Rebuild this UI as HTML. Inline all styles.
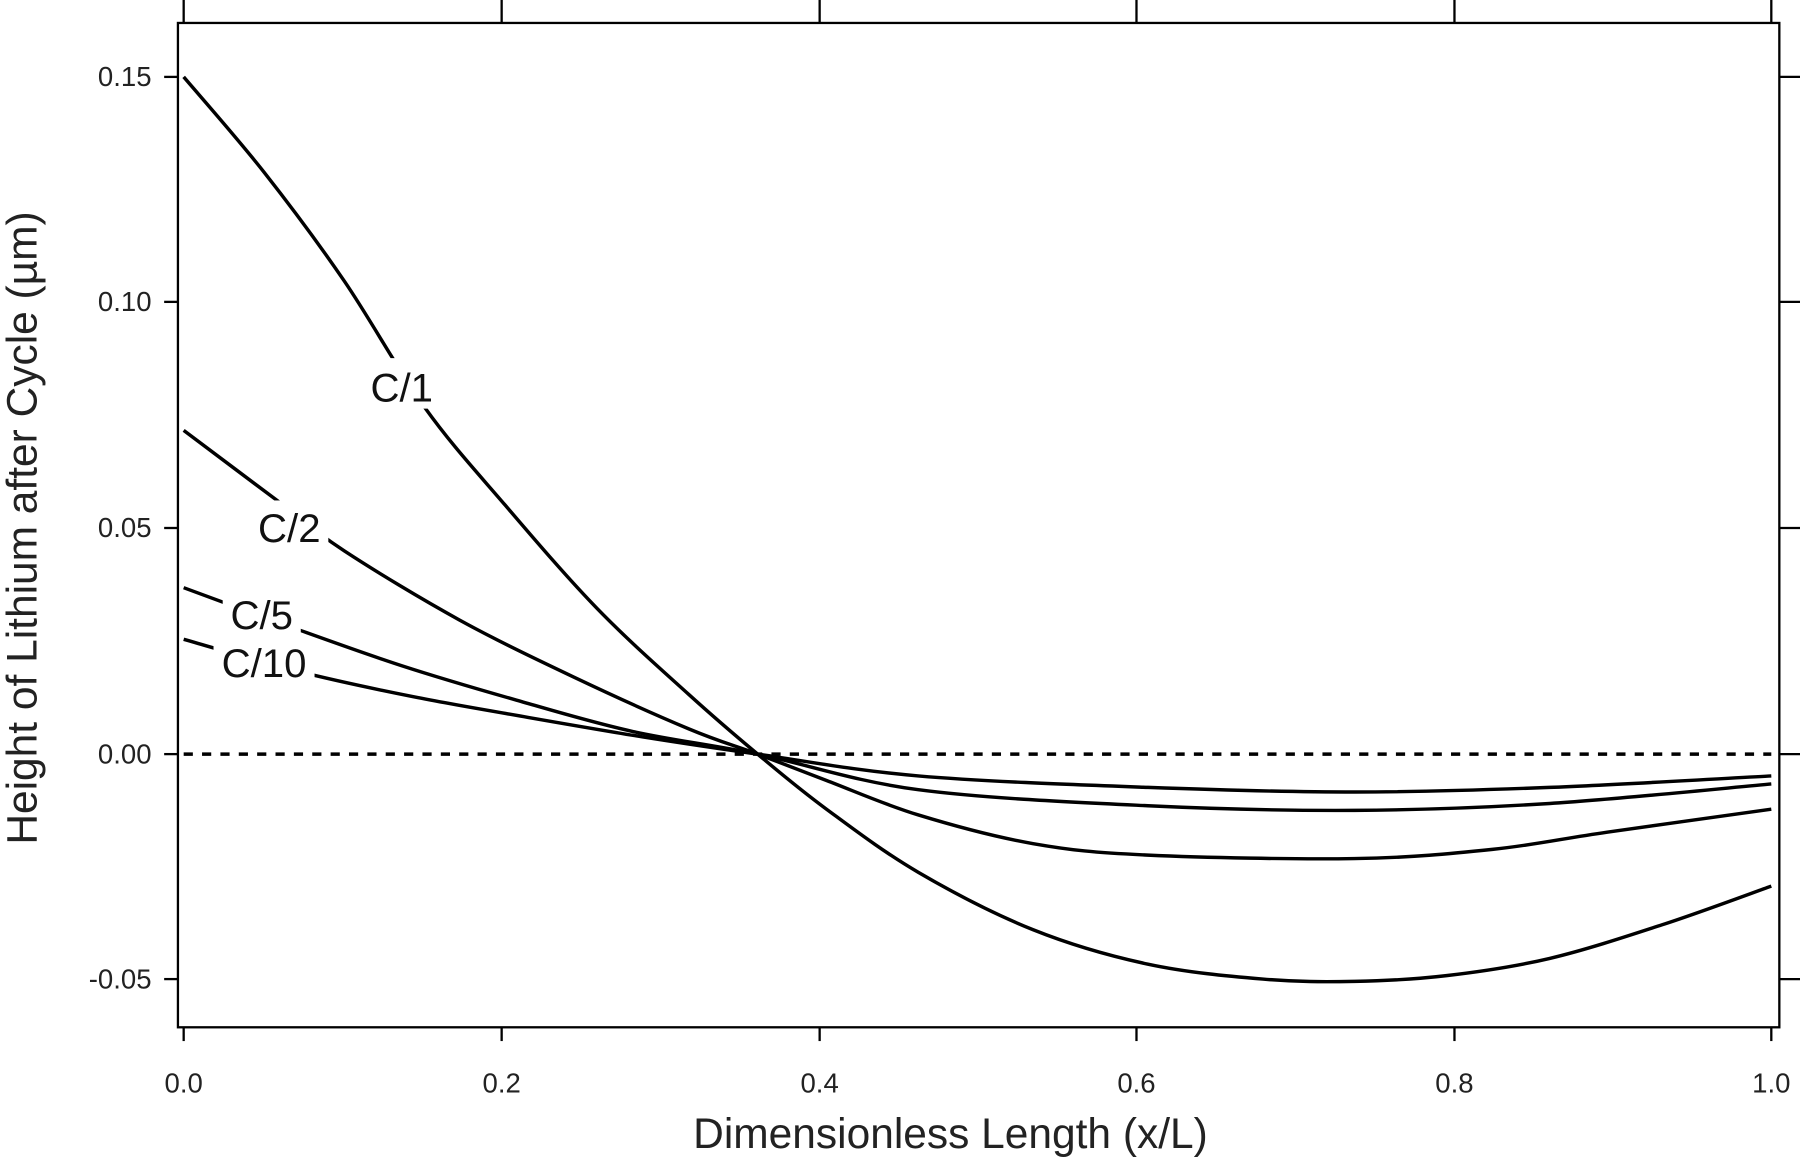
<!DOCTYPE html>
<html><head><meta charset="utf-8"><style>html,body{margin:0;padding:0;background:#fff}svg{display:block}</style></head>
<body>
<svg id="s" width="1800" height="1157" viewBox="0 0 1568 1008" preserveAspectRatio="none" xmlns="http://www.w3.org/2000/svg" font-family="Liberation Sans, sans-serif">
<rect width="1568" height="1008" fill="#fff"/>
<rect x="155" y="20" width="1395" height="875" fill="none" stroke="#000" stroke-width="2"/>
<g stroke="#000" stroke-width="2">
<line x1="160" y1="0" x2="160" y2="20"/><line x1="437" y1="0" x2="437" y2="20"/><line x1="714" y1="0" x2="714" y2="20"/><line x1="990" y1="0" x2="990" y2="20"/><line x1="1267" y1="0" x2="1267" y2="20"/><line x1="1543" y1="0" x2="1543" y2="20"/>
<line x1="160" y1="895" x2="160" y2="907"/><line x1="437" y1="895" x2="437" y2="907"/><line x1="714" y1="895" x2="714" y2="907"/><line x1="990" y1="895" x2="990" y2="907"/><line x1="1267" y1="895" x2="1267" y2="907"/><line x1="1543" y1="895" x2="1543" y2="907"/>
<line x1="143" y1="67" x2="155" y2="67"/><line x1="143" y1="263" x2="155" y2="263"/><line x1="143" y1="460" x2="155" y2="460"/><line x1="143" y1="657" x2="155" y2="657"/><line x1="143" y1="853" x2="155" y2="853"/>
<line x1="1550" y1="67" x2="1568" y2="67"/><line x1="1550" y1="263" x2="1568" y2="263"/><line x1="1550" y1="460" x2="1568" y2="460"/><line x1="1550" y1="657" x2="1568" y2="657"/><line x1="1550" y1="853" x2="1568" y2="853"/>
</g>
<g font-size="24" text-anchor="end" fill="#222">
<text x="132" y="75">0.15</text><text x="132" y="271">0.10</text><text x="132" y="468">0.05</text><text x="132" y="665">0.00</text><text x="132" y="861">-0.05</text>
</g>
<g font-size="24" text-anchor="middle" fill="#222">
<text x="160" y="952">0.0</text><text x="437" y="952">0.2</text><text x="714" y="952">0.4</text><text x="990" y="952">0.6</text><text x="1267" y="952">0.8</text><text x="1543" y="952">1.0</text>
</g>
<text x="828" y="1000" font-size="37" text-anchor="middle" fill="#222">Dimensionless Length (x/L)</text>
<text transform="translate(32,460) rotate(-90)" font-size="37" text-anchor="middle" fill="#222">Height of Lithium after Cycle (µm)</text>
<line x1="160" y1="657" x2="1543" y2="657" stroke="#000" stroke-width="3" stroke-dasharray="8,8"/>
<g id="curves" fill="none" stroke="#000" stroke-width="3" stroke-linejoin="round"></g>
<g fill="#fff">
<rect x="316" y="312" width="68" height="44"/><rect x="218" y="436" width="68" height="40"/><rect x="194" y="515" width="68" height="38"/><rect x="186" y="558" width="88" height="38"/>
</g>
<g font-size="35" text-anchor="middle" fill="#111">
<text x="350" y="350">C/1</text><text x="252" y="472">C/2</text><text x="228" y="548">C/5</text><text x="230" y="590">C/10</text>
</g>
</svg>
<script>
var data=[
[[160,67],[230,150],[300,245],[370,355],[440,440],[520,530],[600,605],[660,657],[720,705],[800,760],[900,810],[1000,840],[1100,853],[1180,855],[1260,850],[1350,835],[1450,805],[1543,772]],
[[160,375],[240,435],[300,480],[400,540],[500,590],[600,635],[660,657],[720,680],[800,710],[900,735],[1000,745],[1180,748],[1300,740],[1400,725],[1543,705]],
[[160,512],[250,545],[350,580],[450,610],[550,637],[660,657],[800,688],[1000,702],[1180,706],[1350,700],[1543,683]],
[[160,557],[260,585],[360,607],[460,625],[560,642],[660,657],[800,676],[1000,686],[1180,690],[1350,686],[1543,676]]];
var g=document.getElementById('curves');
data.forEach(function(p){
 var d='M'+p[0][0]+','+p[0][1];
 for(var i=0;i<p.length-1;i++){
  var p0=p[i-1]||p[i],p1=p[i],p2=p[i+1],p3=p[i+2]||p[i+1];
  var c1=[p1[0]+(p2[0]-p0[0])/6,p1[1]+(p2[1]-p0[1])/6];
  var c2=[p2[0]-(p3[0]-p1[0])/6,p2[1]-(p3[1]-p1[1])/6];
  d+=' C'+c1[0]+','+c1[1]+' '+c2[0]+','+c2[1]+' '+p2[0]+','+p2[1];
 }
 var e=document.createElementNS('http://www.w3.org/2000/svg','path');
 e.setAttribute('d',d);g.appendChild(e);
});
</script>
</body></html>
